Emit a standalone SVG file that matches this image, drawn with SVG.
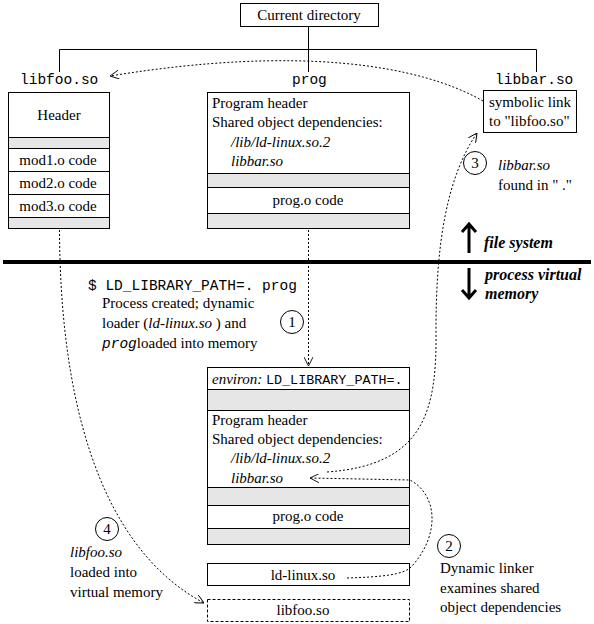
<svg xmlns="http://www.w3.org/2000/svg" width="594" height="624" viewBox="0 0 594 624">
<style>
.bx{fill:#fff;stroke:#000;stroke-width:1}
.gr{fill:#e6e6e6;stroke:#000;stroke-width:1}
.ln{fill:none;stroke:#000;stroke-width:1}
.dt{fill:none;stroke:#000;stroke-width:1;stroke-dasharray:2 2}
.t{font-family:"Liberation Serif","DejaVu Serif",serif;font-size:15px;fill:#000}
.i{font-style:italic}
.m{font-family:"Liberation Mono","DejaVu Sans Mono",monospace;font-size:14.5px;fill:#000}
.c{text-anchor:middle}
.bi{font-family:"Liberation Serif","DejaVu Serif",serif;font-size:16px;font-weight:bold;font-style:italic}
.thick{fill:none;stroke:#000;stroke-width:3}
</style>
<defs>
<marker id="ah" viewBox="0 0 10 10" refX="10" refY="5" markerWidth="9" markerHeight="9" markerUnits="userSpaceOnUse" orient="auto">
<path d="M0,0 L10,5 L0,10" fill="none" stroke="#000" stroke-width="1"/>
</marker>
</defs>

<g id="current-dir">
<rect class="bx" x="240.5" y="3.5" width="138" height="23"/>
<text class="t c" x="309" y="20">Current directory</text>
</g>

<g id="tree">
<path class="ln" d="M308.5,26.5 V72 M59.5,72 V49.5 H536.5 V72"/>
</g>

<g id="libfoo-file">
<text class="m" x="20" y="84">libfoo.so</text>
<rect class="bx" x="8.5" y="92.5" width="101" height="136"/>
<rect class="gr" x="8.5" y="137.5" width="101" height="11"/>
<rect class="bx" x="8.5" y="148.5" width="101" height="23"/>
<rect class="bx" x="8.5" y="171.5" width="101" height="23"/>
<rect class="bx" x="8.5" y="194.5" width="101" height="23"/>
<rect class="gr" x="8.5" y="217.5" width="101" height="11"/>
<text class="t c" x="59" y="120">Header</text>
<text class="t c" x="58" y="165">mod1.o code</text>
<text class="t c" x="58" y="188">mod2.o code</text>
<text class="t c" x="58" y="211">mod3.o code</text>
</g>

<g id="prog-file">
<text class="m" x="292" y="84">prog</text>
<rect class="bx" x="207.5" y="92.5" width="202" height="136"/>
<rect class="gr" x="207.5" y="173.5" width="202" height="14"/>
<rect class="bx" x="207.5" y="187.5" width="202" height="26"/>
<rect class="gr" x="207.5" y="213.5" width="202" height="15"/>
<text class="t" x="212" y="108">Program header</text>
<text class="t" x="212" y="127">Shared object dependencies:</text>
<text class="t i" x="231" y="147">/lib/ld-linux.so.2</text>
<text class="t i" x="231" y="166">libbar.so</text>
<text class="t c" x="308" y="205">prog.o code</text>
</g>

<g id="libbar-file">
<text class="m" x="495" y="84">libbar.so</text>
<rect class="bx" x="483.5" y="90.5" width="93" height="42"/>
<text class="t" x="489" y="107">symbolic link</text>
<text class="t" x="489" y="126">to "libfoo.so"</text>
</g>

<g id="divider">
<line x1="3" y1="262" x2="591" y2="262" stroke="#000" stroke-width="4"/>
<path class="thick" d="M469,253 V225 M462,232 L469,224 L476,232"/>
<text class="bi" x="484" y="248">file system</text>
<path class="thick" d="M469,268 V297 M462,290 L469,298 L476,290"/>
<text class="bi" x="485" y="280">process virtual</text>
<text class="bi" x="485" y="299">memory</text>
</g>

<g id="step1">
<text class="m" x="88" y="290">$ LD_LIBRARY_PATH=. prog</text>
<text class="t" x="102" y="308">Process created; dynamic</text>
<text class="t" x="102" y="328">loader (<tspan class="i">ld-linux.so</tspan> ) and</text>
<text class="t" x="102" y="348"><tspan class="m" style="font-style:italic">prog</tspan>loaded into memory</text>
<circle class="ln" cx="292" cy="322" r="11.5"/>
<text class="t c" x="292" y="327">1</text>
</g>

<g id="process-image">
<rect class="bx" x="207.5" y="367.5" width="202" height="177"/>
<rect class="gr" x="207.5" y="389.5" width="202" height="21"/>
<rect class="gr" x="207.5" y="487.5" width="202" height="18"/>
<rect class="bx" x="207.5" y="505.5" width="202" height="23"/>
<rect class="gr" x="207.5" y="528.5" width="202" height="16"/>
<text class="t i" x="212" y="384">environ:</text>
<text class="m" x="266" y="384" style="font-size:13.4px">LD_LIBRARY_PATH=.</text>
<text class="t" x="212" y="425">Program header</text>
<text class="t" x="212" y="444">Shared object dependencies:</text>
<text class="t i" x="231" y="463">/lib/ld-linux.so.2</text>
<text class="t i" x="231" y="483">libbar.so</text>
<text class="t c" x="308" y="521">prog.o code</text>
</g>

<g id="ld-linux">
<rect class="bx" x="207.5" y="563.5" width="202" height="22"/>
<text class="t c" x="303" y="580">ld-linux.so</text>
</g>

<g id="libfoo-mem">
<rect class="bx" x="207.5" y="599.5" width="202" height="22" style="stroke-dasharray:3 2"/>
<text class="t c" x="303" y="615">libfoo.so</text>
</g>

<g id="step2">
<circle class="ln" cx="449" cy="546" r="11.5"/>
<text class="t c" x="449" y="551">2</text>
<text class="t" x="440" y="573">Dynamic linker</text>
<text class="t" x="440" y="593">examines shared</text>
<text class="t" x="440" y="612">object dependencies</text>
</g>

<g id="step3">
<circle class="ln" cx="475" cy="163" r="11.5"/>
<text class="t c" x="475" y="168">3</text>
<text class="t i" x="498" y="170">libbar.so</text>
<text class="t" x="498" y="190">found in " ."</text>
</g>

<g id="step4">
<circle class="ln" cx="107" cy="529" r="11.5"/>
<text class="t c" x="107" y="534">4</text>
<text class="t i" x="70" y="557">libfoo.so</text>
<text class="t" x="70" y="577">loaded into</text>
<text class="t" x="70" y="597">virtual memory</text>
</g>

<g id="connectors">
<path class="dt" marker-end="url(#ah)" d="M483,101 C420,65 300,45 110,76"/>
<path class="dt" marker-end="url(#ah)" d="M308.5,230 V366"/>
<path class="dt" marker-end="url(#ah)" d="M59.5,230 C60,390 95,545 204,603"/>
<path class="dt" marker-end="url(#ah)" d="M327,472 C425,465 437,410 436,330 C436,250 445,180 477,133"/>
<path class="dt" marker-end="url(#ah)" d="M347,578 C380,577 405,575 412,566 C440,535 438,495 410,480 L310,478"/>
</g>
</svg>
